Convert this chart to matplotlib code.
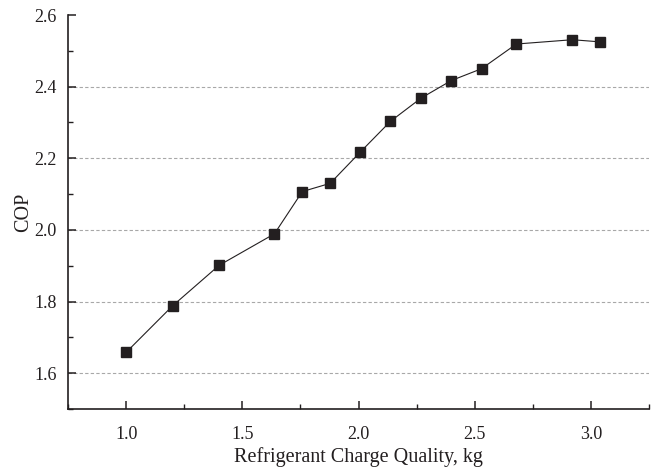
import matplotlib
matplotlib.use('Agg')
import matplotlib.pyplot as plt
from matplotlib.ticker import MultipleLocator

# refrigerant charge (kg) vs coefficient of performance
charge = [1.00, 1.20, 1.40, 1.638, 1.758, 1.878, 2.007, 2.137, 2.269, 2.399, 2.529, 2.679, 2.920, 3.039]
cop = [1.658, 1.788, 1.901, 1.989, 2.107, 2.130, 2.217, 2.303, 2.368, 2.417, 2.450, 2.519, 2.531, 2.525]

plt.rcParams['font.family'] = ['Liberation Serif', 'DejaVu Serif']

fig = plt.figure(figsize=(6.57, 4.69), dpi=100)
ax = fig.add_axes([0.1035, 0.128, 0.8845, 0.84])

ax.plot(charge, cop, color='#231f20', lw=0.8, marker='s', ms=7.5,
        mfc='#231f20', mec='#231f20', zorder=3)

ax.set_xlim(0.75, 3.25)
ax.set_ylim(1.5, 2.6)
ax.xaxis.set_minor_locator(MultipleLocator(0.25))
ax.yaxis.set_minor_locator(MultipleLocator(0.1))
ax.set_yticks([1.6, 1.8, 2.0, 2.2, 2.4, 2.6])
ax.set_xticks([1.0, 1.5, 2.0, 2.5, 3.0])

ax.grid(axis='y', which='major', color='#a8a8a8', ls=(0, (3, 2)), lw=0.8)
ax.get_ygridlines()[-1].set_visible(False)   # no line along the top edge
ax.set_axisbelow(True)

for s in ['top', 'right']:
    ax.spines[s].set_visible(False)
for s in ['left', 'bottom']:
    ax.spines[s].set_linewidth(1.2)
    ax.spines[s].set_color('#231f20')

ax.tick_params(which='major', direction='in', length=6, width=1.1, labelsize=13,
               color='#231f20', labelcolor='#231f20')
ax.tick_params(axis='x', which='major', pad=12)
ax.tick_params(axis='y', which='major', pad=8)
ax.tick_params(which='minor', direction='in', length=3.5, width=1.0, color='#231f20')

ax.set_xlabel('Refrigerant Charge Quality, kg', fontsize=14.5, color='#231f20', labelpad=3)
ax.set_ylabel('COP', fontsize=14.5, color='#231f20', labelpad=1)

fig.savefig('out.png', dpi=100)
